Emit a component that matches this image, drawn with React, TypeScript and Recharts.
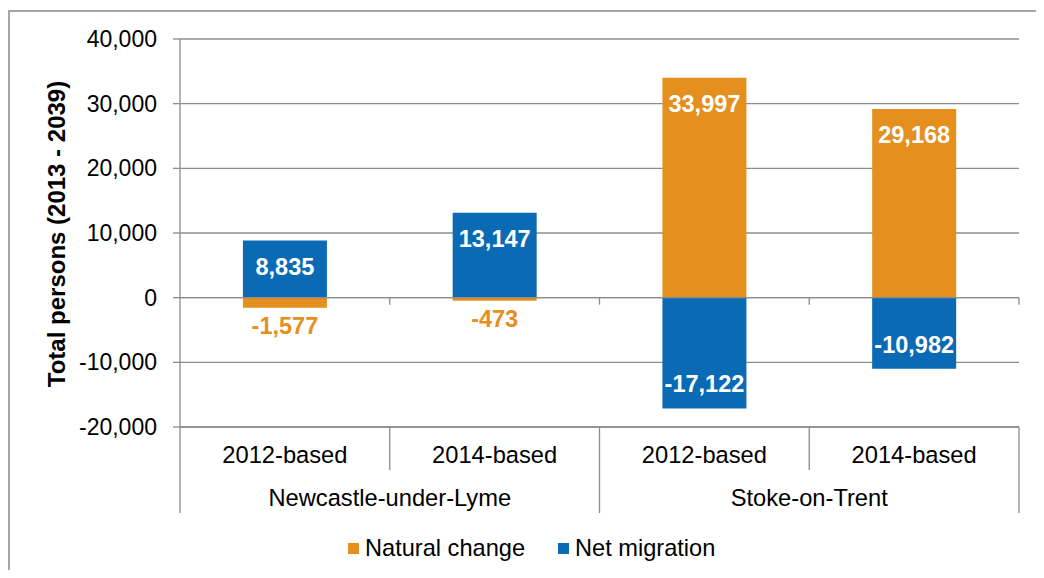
import React from "react";
import {
  BarChart,
  Bar,
  XAxis,
  YAxis,
  CartesianGrid,
  Legend,
  LabelList,
  ReferenceLine,
} from "recharts";

// values
const regions = ["Newcastle-under-Lyme", "Newcastle-under-Lyme", "Stoke-on-Trent", "Stoke-on-Trent"];
const bases = ["2012-based", "2014-based", "2012-based", "2014-based"];
const naturalChange = [-1577, -473, 33997, 29168];
const netMigration = [8835, 13147, -17122, -10982];
const yTicks = [-20000, -10000, 0, 10000, 20000, 30000, 40000];

const data = bases.map((b, i) => ({
  key: `${regions[i]} ${b}`,
  basis: b,
  region: regions[i],
  natural: naturalChange[i],
  migration: netMigration[i],
}));

const FONT = "'Liberation Sans', Arial, sans-serif";
const ORANGE = "#E48F1E";
const BLUE = "#0A6AB4";
const GRID = "#8C8C8C";
const W = 1036;
const H = 562;
const M = { top: 31, right: 25, left: 0, bottom: 7 };
const Y_W = 172;
const AX_H = 43;
const BAND = (W - M.left - M.right - Y_W) / bases.length;

const fmt = (v: number) => Number(v).toLocaleString("en-US");

const makeLabel = (color: string) => (props: any) => {
  const { x, y, width, height, value } = props;
  if (value == null) return null;
  const top = Math.min(y, y + height);
  const bottom = Math.max(y, y + height);
  const cx = x + width / 2;
  const neg = value < 0;
  const small = bottom - top < 40;
  let ly: number;
  let fill = "#fff";
  if (small) {
    ly = neg ? bottom + 18 : top - 18;
    fill = color;
  } else {
    ly = neg ? bottom - 24 : top + 26;
  }
  return (
    <text x={cx} y={ly} textAnchor="middle" dominantBaseline="central" fontFamily={FONT}
      fontSize={23.5} fontWeight="bold" fill={fill}>
      {fmt(value)}
    </text>
  );
};

const halfOf = (payload: any, n: number) =>
  payload && typeof payload.offset === "number" && payload.offset > 0 ? payload.offset : (BAND * bases.length) / n / 2;

const BasisTick = (props: any) => {
  const { x, y, payload, index } = props;
  const half = halfOf(payload, bases.length);
  return (
    <g>
      <line x1={x - half} x2={x - half} y1={y} y2={y + AX_H} stroke={GRID} strokeWidth={1.3} />
      {index === bases.length - 1 && (
        <line x1={x + half} x2={x + half} y1={y} y2={y + AX_H} stroke={GRID} strokeWidth={1.3} />
      )}
      <text x={x} y={y + 28} textAnchor="middle" dominantBaseline="central" fontFamily={FONT} fontSize={23.7} fill="#000">
        {bases[index] ?? payload.value}
      </text>
    </g>
  );
};

const RegionTick = (props: any) => {
  const { x, y, payload, index } = props;
  const half = halfOf(payload, 2);
  return (
    <g>
      <line x1={x - half} x2={x - half} y1={y} y2={y + AX_H} stroke={GRID} strokeWidth={1.3} />
      {index === 1 && (
        <line x1={x + half} x2={x + half} y1={y} y2={y + AX_H} stroke={GRID} strokeWidth={1.3} />
      )}
      <text x={x} y={y + 28} textAnchor="middle" dominantBaseline="central" fontFamily={FONT} fontSize={23.7} fill="#000">
        {payload.value}
      </text>
    </g>
  );
};

// zero line with small tick marks at category boundaries
const ZeroAxis = (props: any) => {
  const { x1, y1, x2 } = props;
  const step = (x2 - x1) / bases.length;
  return (
    <g>
      <line x1={x1} x2={x2} y1={y1} y2={y1} stroke={GRID} strokeWidth={1.3} />
      {bases.map((_, i) => (
        <line key={i} x1={x1 + (i + 1) * step} x2={x1 + (i + 1) * step} y1={y1} y2={y1 + 7} stroke={GRID} strokeWidth={1.3} />
      ))}
    </g>
  );
};

const YTitle = (props: any) => {
  const vb = props.viewBox || {};
  const cy = (vb.y ?? M.top) + (vb.height ?? 388) / 2 + 1;
  return (
    <text x={48} y={cy} transform={`rotate(-90, 48, ${cy})`} textAnchor="middle" dominantBaseline="central"
      fontFamily={FONT} fontSize={24} fontWeight="bold" fill="#000">
      Total persons (2013 - 2039)
    </text>
  );
};

const legendX = [340, 550];

const LegendContent = (props: any) => {
  const payload = props.payload ?? [];
  return (
    <div style={{ position: "relative", width: W, height: 50 }}>
      {payload.map((p: any, i: number) => (
        <div key={p.value} style={{ position: "absolute", left: legendX[i], top: 22, display: "flex", alignItems: "center" }}>
          <span style={{ display: "inline-block", width: 11, height: 11, background: p.color, marginRight: 6 }} />
          <span style={{ fontSize: 23.6, fontFamily: FONT, color: "#000", lineHeight: "26px", whiteSpace: "nowrap" }}>
            {p.value}
          </span>
        </div>
      ))}
    </div>
  );
};

export default function App() {
  return (
    <div style={{ position: "relative", width: W, height: H, overflow: "hidden", background: "#fff" }}>
      <div style={{ position: "absolute", left: 0, top: 2, width: W + 60, height: H + 60, border: "2px solid #A6A6A6" }} />
      <div style={{ position: "absolute", left: 0, top: 0 }}>
        <BarChart width={W} height={H} data={data} margin={M} stackOffset="sign" barCategoryGap="30%">
          <CartesianGrid xAxisId="basis" vertical={false} stroke={GRID} strokeWidth={1.3} />
          <XAxis
            xAxisId="basis"
            dataKey="key"
            height={AX_H}
            interval={0}
            tickSize={0}
            tickMargin={0}
            tickLine={false}
            axisLine={{ stroke: GRID, strokeWidth: 1.3 }}
            tick={<BasisTick />}
          />
          <XAxis
            xAxisId="region"
            dataKey="region"
            allowDuplicatedCategory={false}
            height={AX_H}
            interval={0}
            tickSize={0}
            tickMargin={0}
            tickLine={false}
            axisLine={false}
            tick={<RegionTick />}
          />
          <YAxis
            width={Y_W}
            domain={[-20000, 40000]}
            ticks={yTicks}
            interval={0}
            tickFormatter={fmt}
            tickSize={7}
            tickMargin={16}
            stroke={GRID}
            axisLine={{ stroke: GRID, strokeWidth: 1.3 }}
            tickLine={{ stroke: GRID, strokeWidth: 1.3 }}
            tick={{ fill: "#000", fontSize: 23, fontFamily: FONT }}
            label={YTitle}
          />
          <Bar xAxisId="basis" dataKey="natural" name="Natural change" stackId="a" fill={ORANGE} isAnimationActive={false}>
            <LabelList dataKey="natural" content={makeLabel(ORANGE)} />
          </Bar>
          <Bar xAxisId="basis" dataKey="migration" name="Net migration" stackId="a" fill={BLUE} isAnimationActive={false}>
            <LabelList dataKey="migration" content={makeLabel(BLUE)} />
          </Bar>
          <ReferenceLine xAxisId="basis" y={0} shape={ZeroAxis} />
          <Legend verticalAlign="bottom" align="left" width={W} height={50} content={LegendContent} />
        </BarChart>
      </div>
    </div>
  );
}
